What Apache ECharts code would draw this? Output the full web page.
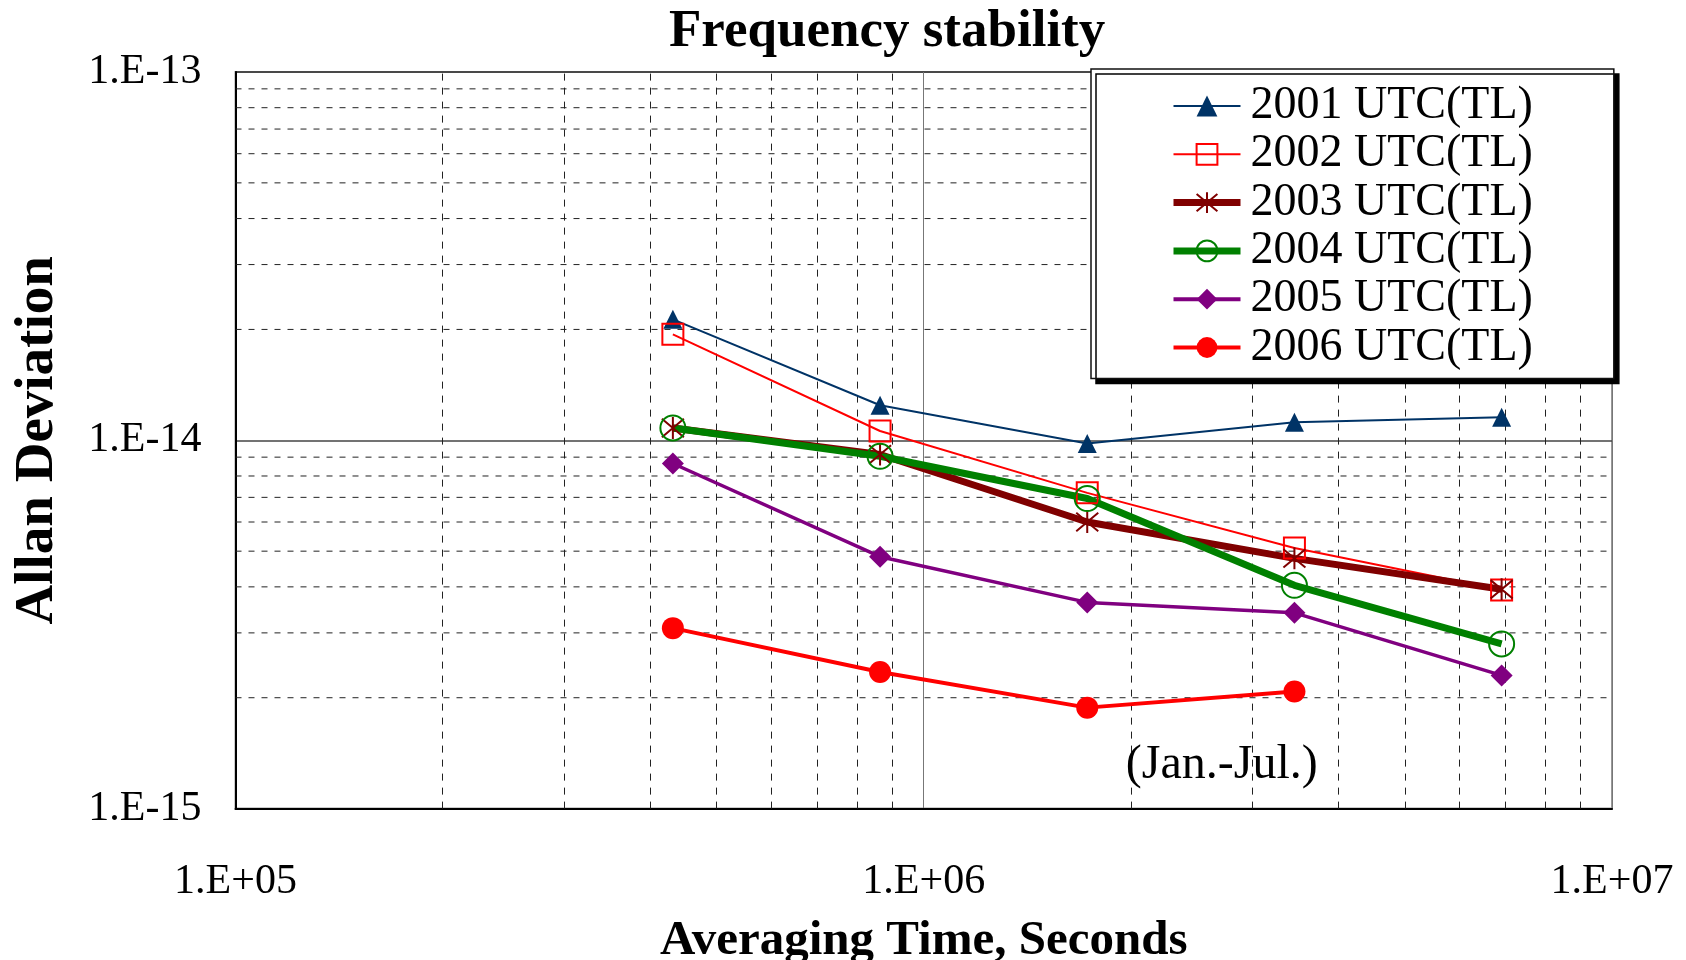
<!DOCTYPE html>
<html>
<head>
<meta charset="utf-8">
<script src="https://cdn.jsdelivr.net/npm/echarts@6/dist/echarts.min.js"></script>
<style>
html,body{margin:0;padding:0;background:#fff;}
#chart{width:1686px;height:960px;}
</style>
</head>
<body>
<div id="chart"></div>
<script>
// Averaging times (s)
const tau = [432000, 864000, 1728000, 3456000, 6912000];
// Allan deviation per year
const y2001 = [2.13e-14, 1.245e-14, 9.8e-15, 1.12e-14, 1.155e-14];
const y2002 = [1.94e-14, 1.06e-14, 7.2e-15, 5.1e-15, 3.92e-15];
const y2003 = [1.08e-14, 9.15e-15, 6.0e-15, 4.78e-15, 3.94e-15];
const y2004 = [1.08e-14, 9.05e-15, 6.95e-15, 4.04e-15, 2.8e-15];
const y2005 = [8.65e-15, 4.83e-15, 3.63e-15, 3.4e-15, 2.3e-15];
const y2006 = [3.09e-15, 2.35e-15, 1.88e-15, 2.08e-15];
const seriesNames = ['2001 UTC(TL)', '2002 UTC(TL)', '2003 UTC(TL)', '2004 UTC(TL)', '2005 UTC(TL)', '2006 UTC(TL)'];
// Minor gridline positions
const minorX = [2e5, 3e5, 4e5, 5e5, 6e5, 7e5, 8e5, 9e5, 2e6, 3e6, 4e6, 5e6, 6e6, 7e6, 8e6, 9e6];
const minorY = [2e-15, 3e-15, 4e-15, 5e-15, 6e-15, 7e-15, 8e-15, 9e-15, 2e-14, 3e-14, 4e-14, 5e-14, 6e-14, 7e-14, 8e-14, 9e-14];
const xRange = [1e5, 1e7];
// Annotation
const annText = '(Jan.-Jul.)';
const annPos = [2.71e6, 1.31e-15];

const FONT = "'Liberation Serif', 'Times New Roman', serif";
function pairs(ys){ return ys.map((v,i)=>[tau[i], v]); }
function expLabel(v){
  const e = Math.round(Math.log10(v));
  return '1.E' + (e < 0 ? '-' : '+') + String(Math.abs(e)).padStart(2,'0');
}
const asterisk = 'path://M0,0L20,20M20,0L0,20M10,-2L10,22';

// horizontal minor grid as dashed line series across the x range
const hGrid = minorY.map(v => ({
  type: 'line', data: [[xRange[0], v], [xRange[1], v]], z: 1, silent: true,
  symbol: 'none', lineStyle: {color: '#222', width: 1, type: [6, 7]},
  emphasis: {disabled: true}, tooltip: {show: false}
}));

const chart = echarts.init(document.getElementById('chart'), null, {renderer:'canvas'});
const option = {
  animation: false,
  backgroundColor: '#fff',
  title: {
    text: 'Frequency stability',
    left: 669,
    top: 6,
    padding: 0,
    textStyle: {fontFamily: FONT, fontWeight: 'bold', fontSize: 53, color: '#000'}
  },
  grid: {
    left: 235.5, right: 74, top: 72, bottom: 151.4,
    containLabel: false, outerBoundsMode: 'none',
    show: true, borderColor: '#999', borderWidth: 2, backgroundColor: 'transparent'
  },
  legend: {
    orient: 'vertical',
    z: 50, zlevel: 0,
    left: 1091, top: 69,
    padding: [14, 81, 8, 79],
    itemWidth: 67, itemHeight: 26, itemGap: 2.3,
    backgroundColor: '#fff',
    borderColor: '#111', borderWidth: 1.5,
    shadowColor: '#000', shadowBlur: 0, shadowOffsetX: 5, shadowOffsetY: 5,
    textStyle: {fontFamily: FONT, fontSize: 46, color: '#000', lineHeight: 44, padding: [0,0,0,5]},
    data: [
      {name: seriesNames[0], lineStyle: {width: 2}},
      {name: seriesNames[1], lineStyle: {width: 2}},
      {name: seriesNames[2], lineStyle: {width: 7}},
      {name: seriesNames[3], lineStyle: {width: 7}},
      {name: seriesNames[4], lineStyle: {width: 4}},
      {name: seriesNames[5], lineStyle: {width: 4}}
    ]
  },
  xAxis: {
    type: 'log', logBase: 10, min: 1e5, max: 1e7,
    name: 'Averaging Time, Seconds', nameLocation: 'middle', nameGap: 108,
    nameTextStyle: {fontFamily: FONT, fontWeight: 'bold', fontSize: 49, color: '#000'},
    axisLine: {show: true, lineStyle: {color: '#000', width: 2}},
    axisTick: {show: false},
    axisLabel: {formatter: expLabel, margin: 52, fontFamily: FONT, fontSize: 42, color: '#000', showMinLabel: true, showMaxLabel: true},
    splitLine: {show: true, lineStyle: {color: '#777', width: 1}},
    minorTick: {show: false}, minorSplitLine: {show: false}
  },
  yAxis: {
    type: 'log', logBase: 10, min: 1e-15, max: 1e-13,
    name: 'Allan Deviation', nameLocation: 'middle', nameGap: 170,
    nameTextStyle: {fontFamily: FONT, fontWeight: 'bold', fontSize: 55, color: '#000'},
    axisLine: {show: true, lineStyle: {color: '#000', width: 2}},
    axisTick: {show: false},
    axisLabel: {formatter: expLabel, margin: 34, fontFamily: FONT, fontSize: 42, color: '#000', showMinLabel: true, showMaxLabel: true},
    splitLine: {show: true, lineStyle: {color: '#444', width: 1.5}}
  },
  series: [
    {
      name: '_vgrid', type: 'line', data: [], z: 1, silent: true,
      markLine: {
        silent: true, z: 1, symbol: ['none','none'], label: {show: false},
        lineStyle: {color: '#222', width: 1, type: [7, 7]},
        emphasis: {disabled: true},
        data: minorX.map(v => ({xAxis: v}))
      }
    },
    ...hGrid,
    {
      name: seriesNames[0], type: 'line', data: pairs(y2001), z: 3,
      symbol: 'triangle', symbolSize: 19,
      lineStyle: {color: '#003366', width: 2},
      itemStyle: {color: '#003366', borderWidth: 0}
    },
    {
      name: seriesNames[1], type: 'line', data: pairs(y2002), z: 3,
      symbol: 'rect', symbolSize: 21,
      lineStyle: {color: '#ff0000', width: 2},
      itemStyle: {color: 'rgba(255,255,255,0)', borderColor: '#ff0000', borderWidth: 2}
    },
    {
      name: seriesNames[2], type: 'line', data: pairs(y2003), z: 3,
      symbol: asterisk, symbolSize: 22,
      lineStyle: {color: '#800000', width: 7},
      itemStyle: {color: 'rgba(128,0,0,0)', borderColor: '#800000', borderWidth: 2}
    },
    {
      name: seriesNames[3], type: 'line', data: pairs(y2004), z: 3,
      symbol: 'circle', symbolSize: 25,
      lineStyle: {color: '#008000', width: 7},
      itemStyle: {color: 'rgba(0,128,0,0)', borderColor: '#008000', borderWidth: 2}
    },
    {
      name: seriesNames[4], type: 'line', data: pairs(y2005), z: 3,
      symbol: 'diamond', symbolSize: 22,
      lineStyle: {color: '#800080', width: 3.5},
      itemStyle: {color: '#800080', borderWidth: 0}
    },
    {
      name: seriesNames[5], type: 'line', data: pairs(y2006), z: 3,
      symbol: 'circle', symbolSize: 22,
      lineStyle: {color: '#ff0000', width: 4},
      itemStyle: {color: '#ff0000', borderWidth: 0},
      markPoint: {
        silent: true, symbol: 'circle', symbolSize: 0,
        label: {show: true, position: 'inside', formatter: annText, fontFamily: FONT, fontSize: 48, color: '#000'},
        data: [{coord: annPos}]
      }
    }
  ]
};
chart.setOption(option);
</script>
</body>
</html>
